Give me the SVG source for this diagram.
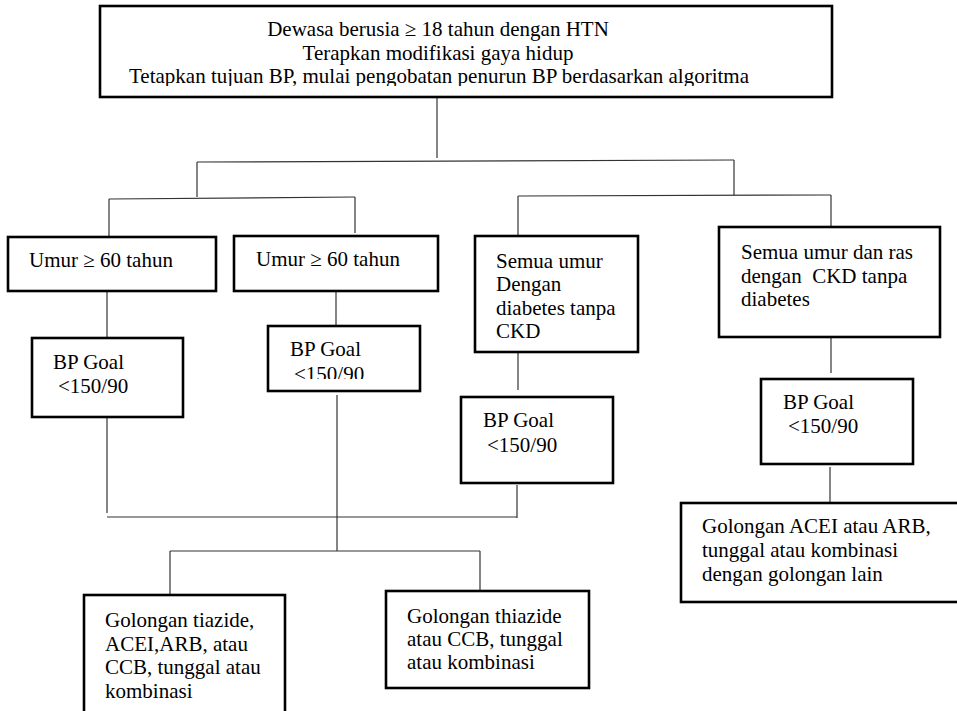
<svg xmlns="http://www.w3.org/2000/svg" width="957" height="711" viewBox="0 0 957 711">
<style>
.box{fill:#fff;stroke:#000;stroke-width:2.6}
.t{font-family:"Liberation Serif","Times New Roman",serif;font-size:21px;fill:#000;white-space:pre}
.c{fill:none;stroke:#333;stroke-width:1.2}
</style>
<defs>
<clipPath id="clipTop"><rect x="100" y="6" width="732" height="80"/></clipPath>
<clipPath id="clipBP2"><rect x="268" y="326" width="152" height="53"/></clipPath>
</defs>
<rect width="957" height="711" fill="#fff"/>
<g id="connectors">
<line class="c" x1="437" y1="97" x2="437" y2="158"/>
<line class="c" x1="197" y1="162" x2="734" y2="160"/>
<line class="c" x1="197" y1="162" x2="197" y2="197"/>
<line class="c" x1="109" y1="199" x2="355" y2="197"/>
<line class="c" x1="109" y1="199" x2="109" y2="239"/>
<line class="c" x1="355" y1="197" x2="355" y2="233"/>
<line class="c" x1="734" y1="160" x2="734" y2="195"/>
<line class="c" x1="518" y1="196" x2="831" y2="195"/>
<line class="c" x1="518" y1="196" x2="518" y2="235"/>
<line class="c" x1="831" y1="195" x2="831" y2="227"/>
<line class="c" x1="107" y1="291" x2="107" y2="338"/>
<line class="c" x1="336" y1="291" x2="336" y2="327"/>
<line class="c" x1="107" y1="417" x2="107" y2="513"/>
<line class="c" x1="337" y1="395" x2="337" y2="551"/>
<line class="c" x1="518" y1="352" x2="518" y2="390"/>
<line class="c" x1="517" y1="485" x2="517" y2="518"/>
<line class="c" x1="107" y1="517" x2="517" y2="517"/>
<line class="c" x1="170" y1="551" x2="480" y2="551"/>
<line class="c" x1="170" y1="551" x2="170" y2="596"/>
<line class="c" x1="480" y1="551" x2="480" y2="591"/>
<line class="c" x1="831" y1="338" x2="831" y2="373"/>
<line class="c" x1="830" y1="467" x2="830" y2="502"/>
</g>
<g id="top">
<rect class="box" x="100" y="6" width="732" height="91"/>
<text class="t" x="438" y="36" text-anchor="middle">Dewasa berusia ≥ 18 tahun dengan HTN</text>
<text class="t" x="438" y="59.5" text-anchor="middle">Terapkan modifikasi gaya hidup</text>
<text class="t" x="439" y="83" text-anchor="middle" clip-path="url(#clipTop)">Tetapkan tujuan BP, mulai pengobatan penurun BP berdasarkan algoritma</text>
</g>
<g id="umur1">
<rect class="box" x="8" y="237" width="208" height="54"/>
<text class="t" x="29" y="267">Umur ≥ 60 tahun</text>
</g>
<g id="umur2">
<rect class="box" x="234" y="236" width="204" height="55"/>
<text class="t" x="256" y="266">Umur ≥ 60 tahun</text>
</g>
<g id="semua1">
<rect class="box" x="475" y="236" width="163" height="116"/>
<text class="t" x="496" y="268">Semua umur</text>
<text class="t" x="496" y="291">Dengan</text>
<text class="t" x="496" y="315">diabetes tanpa</text>
<text class="t" x="496" y="338">CKD</text>
</g>
<g id="semua2">
<rect class="box" x="719" y="227" width="221" height="110"/>
<text class="t" x="741" y="259">Semua umur dan ras</text>
<text class="t" x="741" y="282.5">dengan  CKD tanpa</text>
<text class="t" x="741" y="306">diabetes</text>
</g>
<g id="bp1">
<rect class="box" x="32" y="338" width="151" height="79"/>
<text class="t" x="53" y="369">BP Goal</text>
<text class="t" x="58" y="393">&lt;150/90</text>
</g>
<g id="bp2">
<rect class="box" x="268" y="326" width="152" height="65"/>
<text class="t" x="290" y="356">BP Goal</text>
<text class="t" x="294" y="381" clip-path="url(#clipBP2)">&lt;150/90</text>
</g>
<g id="bp3">
<rect class="box" x="461" y="397" width="152" height="86"/>
<text class="t" x="483" y="427">BP Goal</text>
<text class="t" x="487" y="452">&lt;150/90</text>
</g>
<g id="bp4">
<rect class="box" x="761" y="379" width="152" height="85"/>
<text class="t" x="783" y="409">BP Goal</text>
<text class="t" x="788" y="433">&lt;150/90</text>
</g>
<g id="gol1">
<rect class="box" x="84" y="595" width="201" height="130"/>
<text class="t" x="105" y="627">Golongan tiazide,</text>
<text class="t" x="105" y="651">ACEI,ARB, atau</text>
<text class="t" x="105" y="674">CCB, tunggal atau</text>
<text class="t" x="105" y="698">kombinasi</text>
</g>
<g id="gol2">
<rect class="box" x="386" y="591" width="203" height="97"/>
<text class="t" x="407" y="623">Golongan thiazide</text>
<text class="t" x="407" y="646">atau CCB, tunggal</text>
<text class="t" x="407" y="669">atau kombinasi</text>
</g>
<g id="gol3">
<rect class="box" x="681" y="503" width="290" height="99"/>
<text class="t" x="702" y="533">Golongan ACEI atau ARB,</text>
<text class="t" x="702" y="557">tunggal atau kombinasi</text>
<text class="t" x="702" y="581">dengan golongan lain</text>
</g>
</svg>
